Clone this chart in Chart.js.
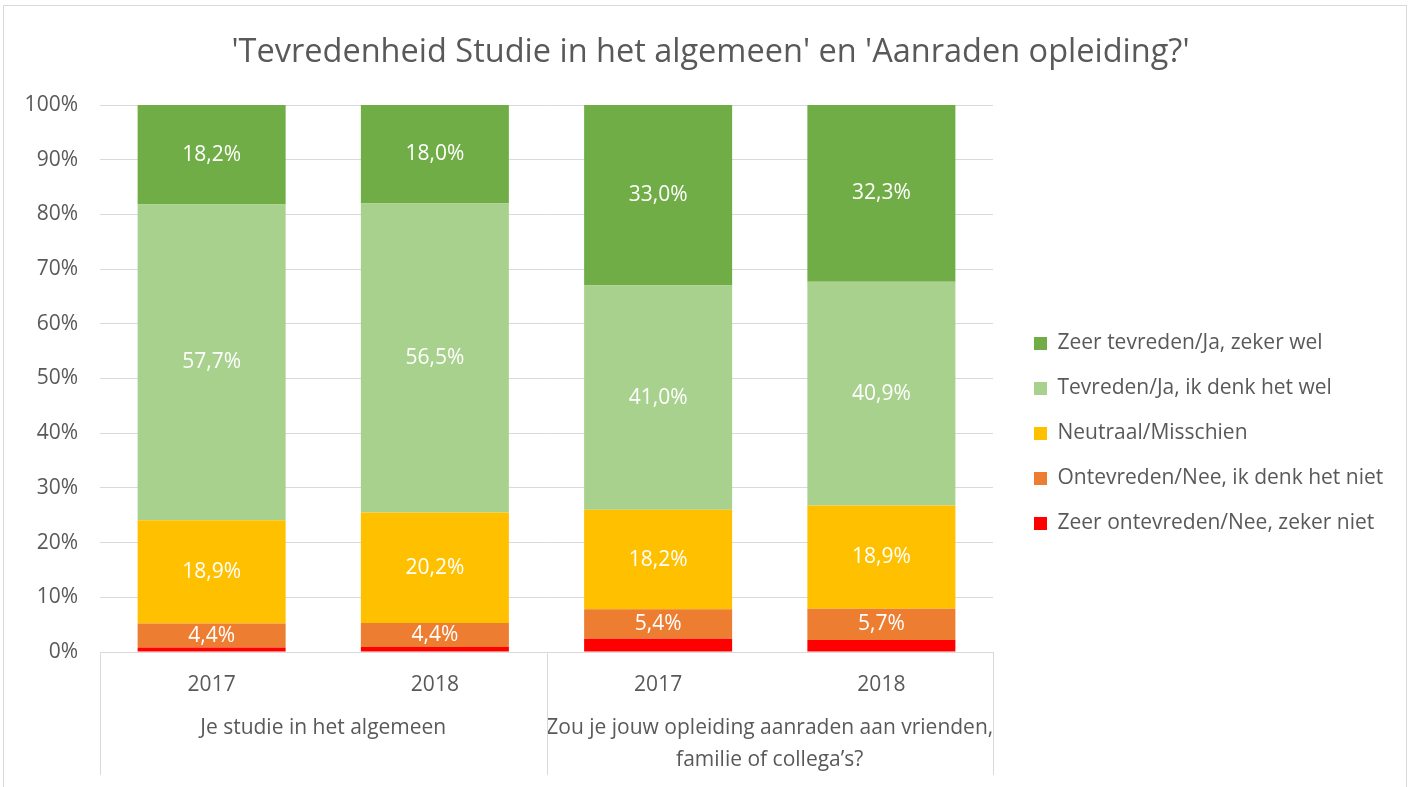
<!DOCTYPE html>
<html>
<head>
<meta charset="utf-8">
<title>Tevredenheid Studie</title>
<script src="https://cdn.jsdelivr.net/npm/chart.js@4.4.1/dist/chart.umd.min.js"></script>
<style>
  html, body { margin: 0; padding: 0; background: #fff; }
  canvas { display: block; }
</style>
</head>
<body>
<canvas id="chart" width="1411" height="787"></canvas>
<script>
// category labels (years) and their outer groups
var years = ['2017', '2018', '2017', '2018'];
var groupLabels = [
    ['Je studie in het algemeen'],
    ['Zou je jouw opleiding aanraden aan vrienden,', 'familie of collega\u2019s?']
];
var groupSizes = [2, 2];

// series values, in percent (bottom to top)
var zeerOntevreden = [0.8, 0.9, 2.4, 2.2];
var ontevreden = [4.4, 4.4, 5.4, 5.7];
var neutraal = [18.9, 20.2, 18.2, 18.9];
var tevreden = [57.7, 56.5, 41.0, 40.9];
var zeerTevreden = [18.2, 18.0, 33.0, 32.3];

var yTicks = [0, 10, 20, 30, 40, 50, 60, 70, 80, 90, 100];

var fontFamily = '"Open Sans", Lato, sans-serif';
var textColor = '#595959';
var gridColor = '#d9d9d9';
var fontSize = 21;

function fmt(v) {
    return v.toFixed(1).replace('.', ',') + '%';
}

// white background, outer frame and legend placement
var frame = {
    id: 'frame',
    beforeUpdate: function (chart) {
        var lg = chart.legend;
        if (lg && !lg._fixedWidth) {
            var fit = lg.fit;
            lg.fit = function () {
                fit.call(this);
                this.width = 418;
            };
            lg._fixedWidth = true;
        }
    },
    afterLayout: function (chart) {
        var lg = chart.legend;
        var dx = 1034 - (lg.left + lg.options.labels.padding);
        lg.left += dx;
        lg.right += dx;
        lg.top += 40;
        lg.bottom += 40;
    },
    beforeDraw: function (chart) {
        var ctx = chart.ctx;
        ctx.save();
        ctx.fillStyle = '#fff';
        ctx.fillRect(0, 0, chart.width, chart.height);
        ctx.strokeStyle = gridColor;
        ctx.lineWidth = 1;
        ctx.strokeRect(3.5, 5.5, chart.width - 8, chart.height + 20);
        ctx.restore();
    }
};

// value labels inside the segments
var segmentLabels = {
    id: 'segmentLabels',
    afterDatasetsDraw: function (chart) {
        var ctx = chart.ctx;
        ctx.save();
        ctx.font = fontSize + 'px ' + fontFamily;
        ctx.fillStyle = '#fff';
        ctx.textAlign = 'center';
        ctx.textBaseline = 'middle';
        chart.data.datasets.forEach(function (ds, di) {
            if (ds.noLabel) return;
            var meta = chart.getDatasetMeta(di);
            meta.data.forEach(function (bar, i) {
                var y = (bar.y + bar.base) / 2;
                ctx.fillText(fmt(ds.data[i]), bar.x, y);
            });
        });
        ctx.restore();
    }
};

// second level of the category axis: separators and group names
var groupAxis = {
    id: 'groupAxis',
    afterDraw: function (chart) {
        var x = chart.scales.x;
        var ctx = chart.ctx;
        var step = x.getPixelForValue(1) - x.getPixelForValue(0);
        var top = chart.chartArea.bottom;
        var bottom = 775;
        ctx.save();
        ctx.strokeStyle = gridColor;
        ctx.lineWidth = 1;
        var start = 0;
        var edges = [Math.round(x.getPixelForValue(0) - step / 2) + 0.5];
        groupSizes.forEach(function (n, g) {
            var first = x.getPixelForValue(start);
            var last = x.getPixelForValue(start + n - 1);
            edges.push(Math.round(last + step / 2) + 0.5);
            var cx = (first + last) / 2;
            ctx.font = fontSize + 'px ' + fontFamily;
            ctx.fillStyle = textColor;
            ctx.textAlign = 'center';
            ctx.textBaseline = 'middle';
            groupLabels[g].forEach(function (line, li) {
                ctx.fillText(line, cx, 728 + li * 32);
            });
            start += n;
        });
        edges.forEach(function (ex) {
            ctx.beginPath();
            ctx.moveTo(ex, top);
            ctx.lineTo(ex, bottom);
            ctx.stroke();
        });
        ctx.restore();
    }
};

var ctx = document.getElementById('chart').getContext('2d');
var chart = new Chart(ctx, {
    type: 'bar',
    data: {
        labels: years,
        datasets: [
            { label: 'Zeer ontevreden/Nee, zeker niet', data: zeerOntevreden, backgroundColor: '#ff0000', noLabel: true },
            { label: 'Ontevreden/Nee, ik denk het niet', data: ontevreden, backgroundColor: '#ed7d31' },
            { label: 'Neutraal/Misschien', data: neutraal, backgroundColor: '#ffc000' },
            { label: 'Tevreden/Ja, ik denk het wel', data: tevreden, backgroundColor: '#a9d18e' },
            { label: 'Zeer tevreden/Ja, zeker wel', data: zeerTevreden, backgroundColor: '#70ad47' }
        ]
    },
    options: {
        responsive: false,
        animation: false,
        datasets: {
            bar: { categoryPercentage: 1, barPercentage: 0.663 }
        },
        layout: { padding: { left: 10, right: 0, top: 10, bottom: 10 } },
        plugins: {
            title: {
                display: true,
                text: "'Tevredenheid Studie in het algemeen' en 'Aanraden opleiding?'",
                color: textColor,
                font: { family: fontFamily, size: 32.5, weight: 'normal' },
                padding: { top: 23, bottom: 33 }
            },
            legend: {
                position: 'right',
                reverse: true,
                labels: {
                    color: textColor,
                    font: { family: fontFamily, size: fontSize },
                    boxWidth: 13,
                    boxHeight: 13,
                    padding: 24
                }
            },
            tooltip: { enabled: false }
        },
        scales: {
            x: {
                stacked: true,
                grid: { display: false, drawTicks: false },
                border: { display: true, color: gridColor },
                ticks: {
                    color: textColor,
                    font: { family: fontFamily, size: fontSize },
                    padding: 20,
                    maxRotation: 0
                },
                afterFit: function (scale) { scale.height = 125; }
            },
            y: {
                stacked: true,
                min: 0,
                max: 100,
                afterBuildTicks: function (scale) {
                    scale.ticks = yTicks.map(function (v) { return { value: v }; });
                },
                grid: { color: gridColor, drawTicks: false },
                border: { display: false },
                ticks: {
                    color: textColor,
                    font: { family: fontFamily, size: fontSize },
                    padding: 22,
                    callback: function (v) { return v + '%'; }
                },
                afterFit: function (scale) { scale.width = 90; }
            }
        }
    },
    plugins: [frame, segmentLabels, groupAxis]
});
</script>
</body>
</html>
